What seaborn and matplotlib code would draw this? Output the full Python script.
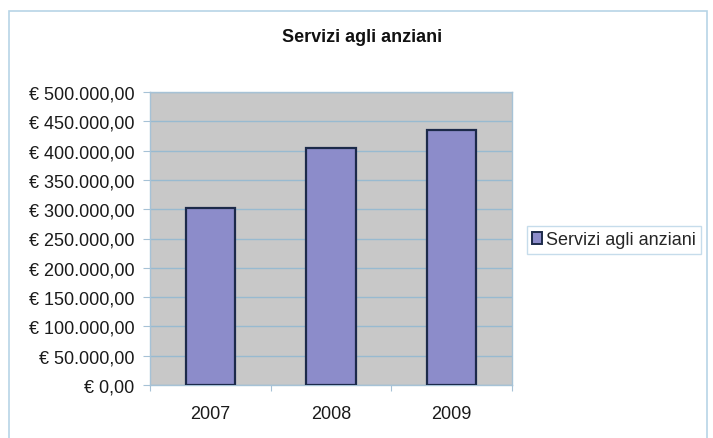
import matplotlib
matplotlib.use('Agg')
import matplotlib.pyplot as plt
import matplotlib.patches as mpatches
from matplotlib.ticker import FuncFormatter, FixedLocator
import pandas as pd
import seaborn as sns

# data
anni = ['2007', '2008', '2009']
spesa = [302000, 405000, 435000]
serie = 'Servizi agli anziani'
tick_valori = list(range(0, 500001, 50000))

df = pd.DataFrame({'Anno': anni, 'Spesa': spesa})

sns.set_style('white')
plt.rcParams['font.family'] = ['Liberation Sans', 'DejaVu Sans']

fig = plt.figure(figsize=(7.13, 4.39), dpi=100)
fig.patch.set_facecolor('white')

# outer chart frame
frame = mpatches.Rectangle((9 / 713, -0.05), 698 / 713, 1 - 12 / 439 + 0.05,
                           transform=fig.transFigure, fill=False,
                           edgecolor='#b8d4e6', linewidth=1.2)
fig.patches.append(frame)

ax = fig.add_axes([150 / 713, 1 - 386 / 439, 362 / 713, 293 / 439])
ax.set_facecolor('#c8c8c8')

sns.barplot(data=df, x='Anno', y='Spesa', color='#8c8cca', width=0.41,
            edgecolor='#1c2a4a', linewidth=1.6, saturation=1, ax=ax, zorder=3)

def euro(v, pos):
    s = f'{v:,.2f}'.replace(',', 'X').replace('.', ',').replace('X', '.')
    return f'€ {s}'

ax.set_ylim(0, 500000)
ax.set_xlim(-0.5, 2.5)
ax.yaxis.set_major_locator(FixedLocator(tick_valori))
ax.yaxis.set_major_formatter(FuncFormatter(euro))
ax.grid(axis='y', color='#98bad0', linewidth=1.0, zorder=0)
ax.set_axisbelow(True)

for sp in ax.spines.values():
    sp.set_color('#a6c2d6')
    sp.set_linewidth(1.0)

ax.tick_params(axis='y', which='major', left=True, length=5, width=0.8,
               color='#a6c2d6', labelsize=13, labelcolor='#1a1a1a', pad=6)
ax.tick_params(axis='x', which='major', bottom=False, labelsize=13,
               labelcolor='#1a1a1a', pad=11)
ax.xaxis.set_minor_locator(FixedLocator([-0.5, 0.5, 1.5, 2.5]))
ax.tick_params(axis='x', which='minor', bottom=True, length=4, width=0.8,
               color='#a6c2d6')
ax.set_xlabel('')
ax.set_ylabel('')

fig.text(362 / 713, 1 - 38 / 439, serie, ha='center', va='center',
         fontsize=13, fontweight='bold', color='#111111')

handle = mpatches.Patch(facecolor='#8c8cca', edgecolor='#1c2a4a',
                        linewidth=1.4, label=serie)
leg = fig.legend(handles=[handle], loc='center left',
                 bbox_to_anchor=(527 / 713, 1 - 241 / 439), frameon=True,
                 fontsize=13, handlelength=0.55, handleheight=0.6,
                 handletextpad=0.2, borderpad=0.3, borderaxespad=0,
                 fancybox=False)
leg.get_frame().set_edgecolor('#b8d4e6')
leg.get_frame().set_linewidth(1.0)

fig.savefig('out.png', dpi=100)
